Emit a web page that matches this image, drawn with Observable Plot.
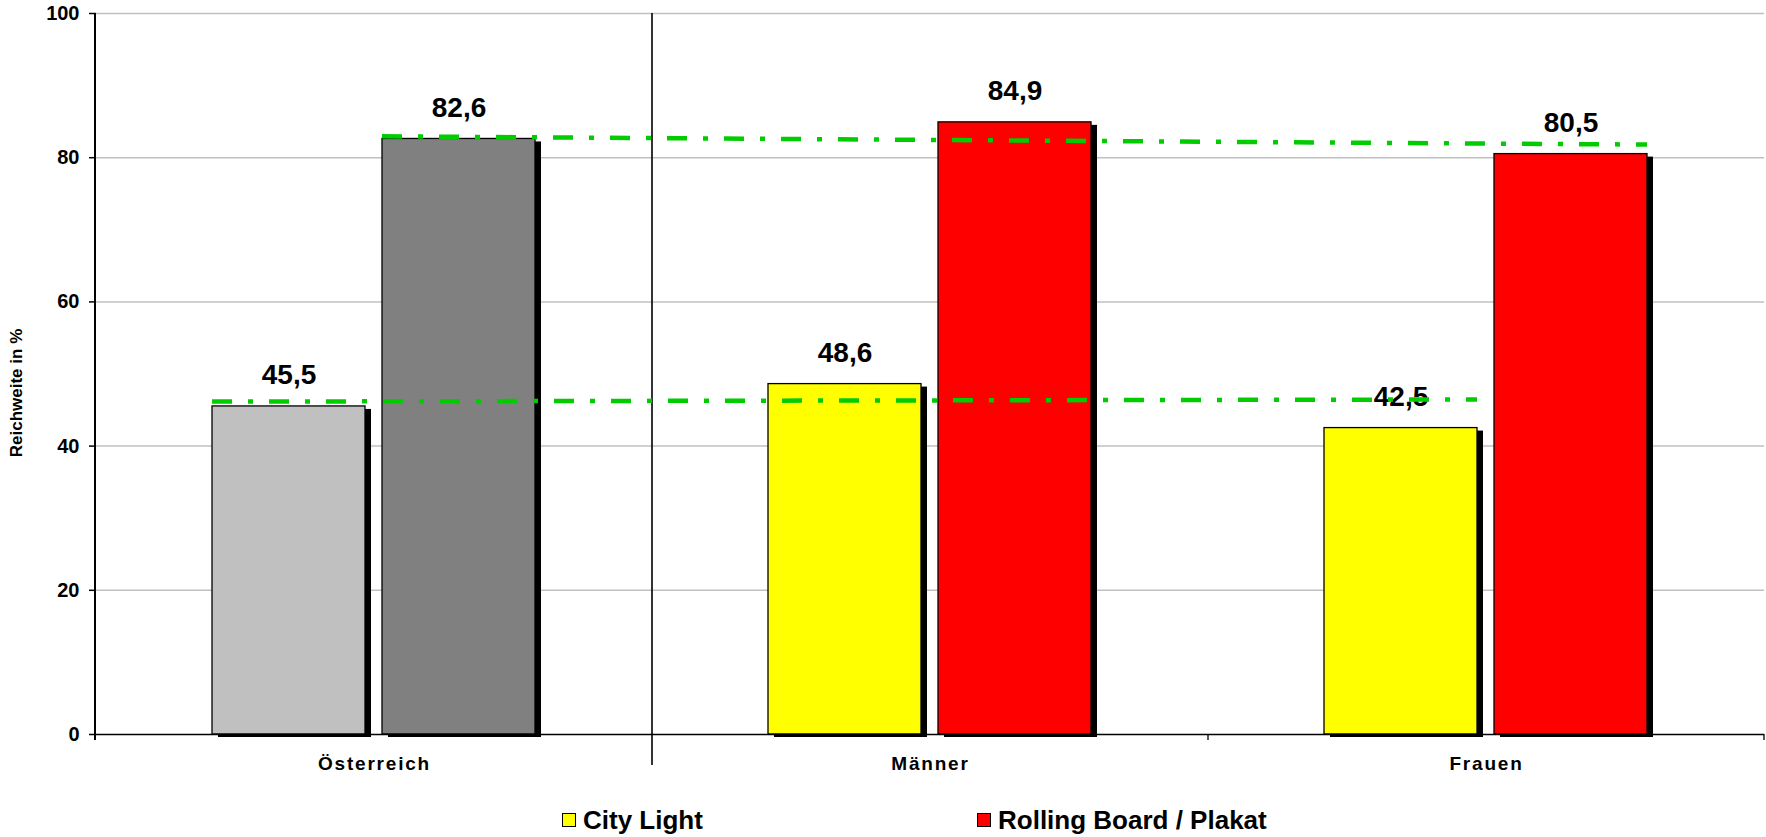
<!DOCTYPE html>
<html>
<head>
<meta charset="utf-8">
<script src="https://cdn.jsdelivr.net/npm/d3@7"></script>
<script src="https://cdn.jsdelivr.net/npm/@observablehq/plot@0.6"></script>
<style>
  body { margin: 0; background: #fff; font-family: "Liberation Sans", Arial, sans-serif; }
  #wrap { position: relative; width: 1766px; height: 837px; overflow: hidden; }
  #chart svg { display: block; }
  g[aria-label="fx-axis tick label"] text { letter-spacing: 1.8px; }
  #legend { position: relative; width: 1766px; height: 47px; }
  .item { position: absolute; top: 0; height: 47px; }
  .sw { position: absolute; top: 23px; left: 0; width: 14px; height: 14px; box-sizing: border-box; border: 1.5px solid #000; }
  .lt { position: absolute; top: 17px; left: 21px; font-size: 26px; line-height: 26px; font-weight: bold; white-space: nowrap; color: #000; }
</style>
</head>
<body>
<div id="wrap">
  <div id="chart"></div>
  <div id="legend"></div>
</div>
<script>
// ---- data ----
const categories = ["Österreich", "Männer", "Frauen"];
const seriesNames = ["City Light", "Rolling Board / Plakat"];
const cityLight = [45.5, 48.6, 42.5];
const rollingBoard = [82.6, 84.9, 80.5];
const cityLightColors = ["#C0C0C0", "#FFFF00", "#FFFF00"];
const rollingBoardColors = ["#808080", "#FF0000", "#FF0000"];
const yTicks = [0, 20, 40, 60, 80, 100];
// dash-dot reference lines: value at start (Österreich bar left edge) and end (Frauen bar right edge)
const cityLightRefLine = [46.1, 46.4];
const rollingBoardRefLine = [82.9, 81.75];
const legendLabels = ["City Light", "Rolling Board / Plakat"];
const legendColors = ["#FFFF00", "#FF0000"];

const rows = [];
categories.forEach((c, i) => {
  rows.push({cat: c, series: seriesNames[0], value: cityLight[i], color: cityLightColors[i]});
  rows.push({cat: c, series: seriesNames[1], value: rollingBoard[i], color: rollingBoardColors[i]});
});
const fmt = v => v.toFixed(1).replace(".", ",");
const FONT = '"Liberation Sans", Arial, sans-serif';

const plot = Plot.plot({
  width: 1766,
  height: 790,
  marginTop: 13,
  marginBottom: 56,
  marginLeft: 95,
  marginRight: 2,
  style: {fontFamily: FONT, fontWeight: "bold", background: "white", overflow: "visible", color: "black"},
  fx: {domain: categories, padding: 0, label: null},
  x: {domain: seriesNames, paddingInner: 0.0994, paddingOuter: 0.676, axis: null},
  y: {domain: [0, 100], axis: null},
  color: {type: "identity"},
  marks: [
    Plot.ruleY(yTicks.filter(t => t > 0), {stroke: "#c0c0c0", strokeWidth: 1.5}),
    Plot.barY(rows, {fx: "cat", x: "series", y: "value", fill: "black", dx: 6, dy: 3}),
    Plot.barY(rows, {fx: "cat", x: "series", y: "value", fill: "color", stroke: "black", strokeWidth: 1.3}),
    Plot.ruleY([0], {stroke: "black", strokeWidth: 1.5}),
    Plot.text(rows, {fx: "cat", x: "series", y: "value", text: d => fmt(d.value), dy: -22, lineAnchor: "bottom", fontSize: 28, fontWeight: "bold", fill: "black"}),
    Plot.axisY({ticks: yTicks, tickSize: 7, tickPadding: 10, fontSize: 20, fontWeight: "bold", label: null, strokeWidth: 1.5, tickFormat: d => d}),
    Plot.axisFx({anchor: "bottom", tickSize: 0, tickPadding: 22, fontSize: 19, fontWeight: "bold", label: null})
  ]
});
document.getElementById("chart").appendChild(plot);

// ---- extra lines through the library's scales ----
const svg = d3.select(plot);
const fx = plot.scale("fx"), x = plot.scale("x"), y = plot.scale("y");
const bw = x.bandwidth;
const X = (cat, s, edge) => fx.apply(cat) - x.range[0] + x.apply(s) + (edge === "right" ? bw : 0);
const y0 = y.apply(0), yTop = y.apply(100);
const left = fx.range[0], right = fx.range[1];

const g = svg.append("g");
// y axis line
g.append("line").attr("x1", left).attr("x2", left).attr("y1", yTop).attr("y2", y0 + 6)
  .attr("stroke", "black").attr("stroke-width", 2);
// separator between Österreich and the gender groups
const sepX = fx.apply(categories[1]);
g.append("line").attr("x1", sepX).attr("x2", sepX).attr("y1", yTop).attr("y2", y0 + 31)
  .attr("stroke", "black").attr("stroke-width", 1.6);
// category boundary ticks
[fx.apply(categories[2]), right].forEach(px => {
  g.append("line").attr("x1", px).attr("x2", px).attr("y1", y0).attr("y2", y0 + 6)
    .attr("stroke", "black").attr("stroke-width", 1.3);
});

// green dash-dot reference lines
const refLines = [
  {series: seriesNames[0], vals: cityLightRefLine},
  {series: seriesNames[1], vals: rollingBoardRefLine}
];
refLines.forEach(r => {
  g.append("line")
    .attr("x1", X(categories[0], r.series, "left")).attr("y1", y.apply(r.vals[0]))
    .attr("x2", X(categories[2], r.series, "right")).attr("y2", y.apply(r.vals[1]))
    .attr("stroke", "#00CC00").attr("stroke-width", 4.5)
    .attr("stroke-dasharray", "20,16,5,16");
});

// ---- legend ----
const legend = document.getElementById("legend");
const legendX = [562, 977];
legendLabels.forEach((lab, i) => {
  const it = document.createElement("div");
  it.className = "item";
  it.style.left = legendX[i] + "px";
  it.innerHTML = `<div class="sw" style="background:${legendColors[i]}"></div><div class="lt">${lab}</div>`;
  legend.appendChild(it);
});

// y axis title
svg.append("text")
  .attr("transform", `translate(22, 393) rotate(-90)`)
  .attr("text-anchor", "middle")
  .attr("font-size", 17)
  .attr("font-weight", "bold")
  .attr("font-family", FONT)
  .attr("fill", "black")
  .text("Reichweite in %");
</script>
</body>
</html>
